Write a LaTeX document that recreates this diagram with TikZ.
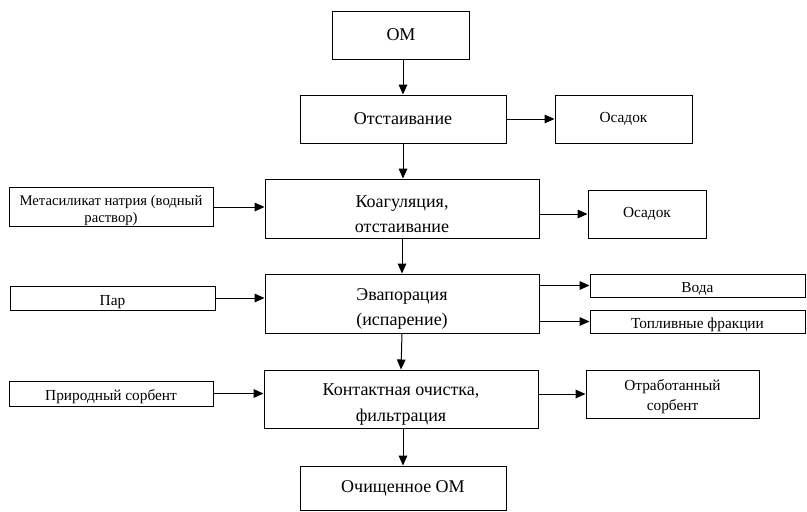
\documentclass[tikz,border=0pt]{standalone}
\usepackage{fontspec}
\setmainfont{Liberation Serif}
\usetikzlibrary{arrows.meta}
\newcommand{\bigtop}{\rule{0pt}{17pt}}
\newcommand{\smtop}{\rule{0pt}{12.5pt}}
\begin{document}
\begin{tikzpicture}[x=0.75pt,y=-0.75pt,
  box/.style={draw,line width=0.75pt,rectangle,inner sep=1pt,align=center,font=\fontsize{13.5}{19}\selectfont},
  sbox/.style={draw,line width=0.75pt,rectangle,inner sep=1pt,align=center,font=\fontsize{11.5}{13.5}\selectfont},
  sone/.style={sbox,text height=12pt,text depth=1.5pt},
  arr/.style={line width=0.75pt,-{Triangle[length=7.5pt,width=6.5pt]}}]
\useasboundingbox (0,0) rectangle (807,511);
\node[box,minimum width=102.75pt,minimum height=36pt] (om) at (401,35) {ОМ};
\node[box,minimum width=154.5pt,minimum height=36pt] (ots) at (403,119) {Отстаивание};
\node[sbox,minimum width=102.75pt,minimum height=36pt] (os1) at (623.5,119) {Осадок};
\node[box,minimum width=205.5pt,minimum height=44.25pt] (koag) at (402,208.5) {\bigtop Коагуляция,\\отстаивание};
\node[sbox,minimum width=88.5pt,minimum height=36pt] (os2) at (647,214) {Осадок};
\node[sbox,minimum width=153pt,minimum height=27pt,font=\fontsize{11}{12.5}\selectfont] (meta) at (111,207) {\smtop Метасиликат натрия (водный\\раствор)};
\node[box,minimum width=205.5pt,minimum height=44.25pt] (evap) at (402,303.5) {\bigtop Эвапорация\\(испарение)};
\node[sone,minimum width=153.75pt,minimum height=18pt] (par) at (112.5,298) {Пар};
\node[sone,minimum width=161.25pt,minimum height=17.25pt] (voda) at (697.5,285.5) {Вода};
\node[sone,minimum width=161.25pt,minimum height=17.25pt] (topl) at (697.5,321.5) {Топливные фракции};
\node[box,minimum width=205.5pt,minimum height=43.5pt] (kont) at (401,399) {\bigtop Контактная очистка,\\фильтрация};
\node[sone,minimum width=153pt,minimum height=18.75pt] (prir) at (111,393.5) {Природный сорбент};
\node[sbox,minimum width=129.75pt,minimum height=36pt,font=\fontsize{11.5}{15}\selectfont] (otr) at (672.5,394) {\smtop Отработанный\\сорбент};
\node[box,minimum width=154.5pt,minimum height=33pt] (och) at (403,488) {Очищенное ОМ};
\draw[arr] (om.south -| ots.north) -- (ots.north);
\draw[arr] (ots.east) -- (os1.west);
\draw[arr] (ots.south) -- (ots.south |- koag.north);
\draw[arr] (koag.east |- os2) -- (os2.west);
\draw[arr] (meta.east) -- (meta.east -| koag.west);
\draw[arr] (koag.south) -- (evap.north);
\draw[arr] (evap.east |- voda) -- (voda.west);
\draw[arr] (evap.east |- topl) -- (topl.west);
\draw[arr] (par.east) -- (par.east -| evap.west);
\draw[arr] (evap.south) -- (kont.north);
\draw[arr] (prir.east) -- (prir.east -| kont.west);
\draw[arr] (kont.east |- otr) -- (otr.west);
\draw[arr] (kont.south -| och.north) -- (och.north);
\end{tikzpicture}
\end{document}
